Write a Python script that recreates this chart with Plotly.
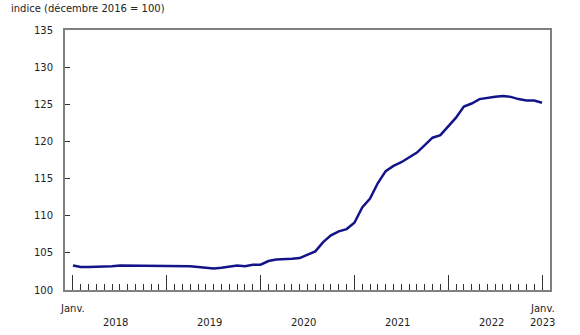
import plotly.graph_objects as go

# Monthly index, Jan 2018 .. Jan 2023 (61 values)
months = list(range(61))
values = [
    103.3, 103.1, 103.1, 103.1, 103.1, 103.2, 103.3, 103.3, 103.3, 103.3, 103.3, 103.3,  # 2018
    103.2, 103.2, 103.2, 103.2, 103.1, 103.0, 102.9, 103.0, 103.2, 103.3, 103.2, 103.4,  # 2019
    103.4, 103.9, 104.1, 104.1, 104.2, 104.3, 104.75, 105.2, 106.45, 107.35, 107.9, 108.2,  # 2020
    109.05, 111.1, 112.3, 114.4, 116.0, 116.7, 117.2, 117.9, 118.5, 119.5, 120.5, 120.85,  # 2021
    122.0, 123.2, 124.7, 125.1, 125.7, 125.9, 126.0, 126.1, 126.0, 125.7, 125.5, 125.5,  # 2022
    125.2,  # Jan 2023
]

year_labels = ["2018", "2019", "2020", "2021", "2022", "2023"]
year_label_pos = [5.5, 17.5, 29.5, 41.5, 53.5, 60]
month_labels = ["Janv.", "Janv."]
month_label_pos = [0, 60]
major_ticks = [0, 12, 24, 36, 48, 60]
y_ticks = [100, 105, 110, 115, 120, 125, 130, 135]
y_title = "indice (décembre 2016 = 100)"

FONT = "DejaVu Sans, Verdana, sans-serif"
TXT = "#222222"

fig = go.Figure()
fig.add_trace(go.Scatter(
    x=months, y=values, mode="lines",
    line=dict(color="#14148a", width=2.5, shape="linear"),
    hoverinfo="skip", showlegend=False,
))

fig.update_layout(
    width=580, height=335,
    margin=dict(l=65, r=30, t=30, b=45),
    paper_bgcolor="white", plot_bgcolor="white",
    font=dict(family=FONT, size=10, color=TXT),
    showlegend=False,
)

fig.update_xaxes(
    range=[-1.02, 61.02],
    showgrid=False, zeroline=False,
    showline=True, linecolor="#808080", linewidth=2, mirror=True,
    tickmode="array", tickvals=major_ticks, ticktext=[""] * len(major_ticks),
    ticks="inside", ticklen=15, tickwidth=1, tickcolor="#333333",
    minor=dict(ticks="inside", ticklen=6, tickwidth=1, tickcolor="#333333",
               tickmode="linear", tick0=0, dtick=1, showgrid=False),
)
fig.update_yaxes(
    range=[100, 135],
    showgrid=False, zeroline=False,
    showline=True, linecolor="#808080", linewidth=2, mirror=True,
    tickmode="array", tickvals=y_ticks,
    ticks="inside", ticklen=5, tickwidth=1, tickcolor="#333333",
    ticklabelstandoff=8,
    tickfont=dict(family=FONT, size=10, color=TXT),
)

annotations = []
for lab, pos in zip(month_labels, month_label_pos):
    annotations.append(dict(x=pos, y=0, xref="x", yref="paper", text=lab,
                            showarrow=False, xanchor="center", yanchor="middle",
                            yshift=-18, font=dict(family=FONT, size=10, color=TXT)))
for lab, pos in zip(year_labels, year_label_pos):
    annotations.append(dict(x=pos, y=0, xref="x", yref="paper", text=lab,
                            showarrow=False, xanchor="center", yanchor="middle",
                            yshift=-32, font=dict(family=FONT, size=10, color=TXT)))
annotations.append(dict(x=0, y=1, xref="paper", yref="paper", text=y_title,
                        showarrow=False, xanchor="left", yanchor="middle",
                        xshift=-56, yshift=22, font=dict(family=FONT, size=10, color=TXT)))
fig.update_layout(annotations=annotations)

fig.write_html("out.html")
